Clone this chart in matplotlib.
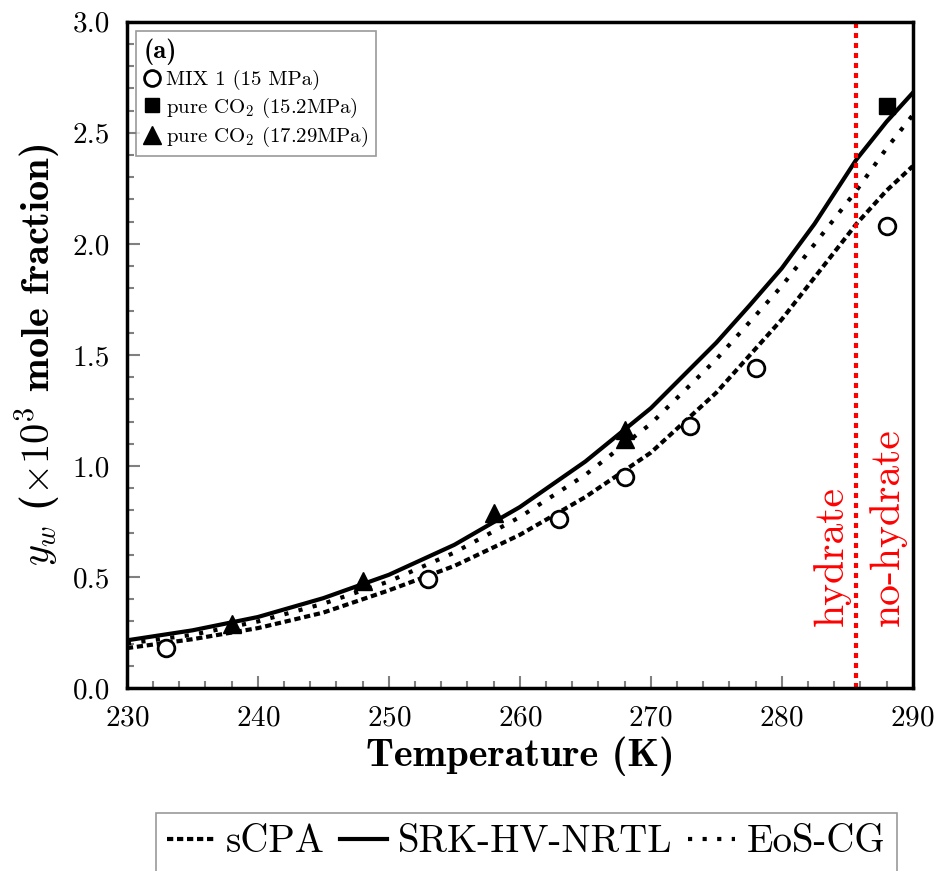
import numpy as np
import matplotlib.pyplot as plt
from matplotlib.ticker import MultipleLocator

plt.rcParams['font.family'] = 'cmr10'
plt.rcParams['mathtext.fontset'] = 'cm'
plt.rcParams['axes.unicode_minus'] = False
plt.rcParams['axes.formatter.use_mathtext'] = True

# experimental data
mix1_T = [233, 253, 263, 268, 273, 278, 288]
mix1_y = [0.18, 0.49, 0.76, 0.95, 1.18, 1.44, 2.08]
co2a_T = [288]
co2a_y = [2.62]
co2b_T = [238, 248, 258, 268, 268]
co2b_y = [0.29, 0.48, 0.79, 1.16, 1.12]

# model curves
srk_T = [230, 235, 240, 245, 250, 255, 260, 265, 270, 275, 277.5, 280, 282.5, 285.7, 288, 290]
srk_y = [0.215, 0.26, 0.32, 0.405, 0.51, 0.645, 0.815, 1.02, 1.26, 1.555, 1.72, 1.89, 2.09, 2.38, 2.55, 2.68]
cg_T = [230, 235, 240, 245, 250, 255, 260, 265, 270, 275, 280, 285.7, 288, 290]
cg_y = [0.20, 0.24, 0.30, 0.38, 0.48, 0.61, 0.77, 0.96, 1.19, 1.48, 1.81, 2.24, 2.43, 2.58]
scpa_T = [230, 235, 240, 245, 250, 255, 260, 265, 270, 275, 280, 285.7, 288, 290]
scpa_y = [0.18, 0.22, 0.27, 0.34, 0.44, 0.55, 0.69, 0.86, 1.06, 1.33, 1.66, 2.09, 2.24, 2.35]

T_hyd = 285.7

fig = plt.figure(figsize=(9.4, 8.71), dpi=100)
ax = fig.add_axes([0.135, 0.21, 0.836, 0.765])

l1, = ax.plot(scpa_T, scpa_y, color='k', lw=3, dashes=(1.5, 0.9), label='sCPA')
l2, = ax.plot(srk_T, srk_y, color='k', lw=3, label='SRK-HV-NRTL')
l3, = ax.plot(cg_T, cg_y, color='k', lw=3, dashes=(1, 2.5), label='EoS-CG')

m1, = ax.plot(mix1_T, mix1_y, 'o', mfc='white', mec='k', mew=2, ms=12, ls='none',
              label='MIX 1 (15 MPa)')
m2, = ax.plot(co2a_T, co2a_y, 's', color='k', ms=11, ls='none',
              label='pure CO$_2$ (15.2MPa)')
m3, = ax.plot(co2b_T, co2b_y, '^', color='k', ms=13, ls='none',
              label='pure CO$_2$ (17.29MPa)')

ax.axvline(T_hyd, color='red', lw=3, dashes=(1.2, 1.2))
ax.text(T_hyd - 1.9, 0.28, 'hydrate', color='red', rotation=90, fontsize=30,
        ha='center', va='bottom')
ax.text(T_hyd + 2.4, 0.28, 'no-hydrate', color='red', rotation=90, fontsize=30,
        ha='center', va='bottom')

ax.set_xlim(230, 290)
ax.set_ylim(0, 3.0)
ax.xaxis.set_major_locator(MultipleLocator(10))
ax.xaxis.set_minor_locator(MultipleLocator(2))
ax.yaxis.set_major_locator(MultipleLocator(0.5))
ax.yaxis.set_minor_locator(MultipleLocator(0.1))
ax.yaxis.set_major_formatter(plt.FuncFormatter(lambda v, p: '%.1f' % v))
ax.tick_params(which='both', direction='in', color='gray', labelsize=21, width=1.5)
ax.tick_params(which='major', length=9, pad=12)
ax.tick_params(which='minor', length=5)
for s in ax.spines.values():
    s.set_linewidth(2.5)

ax.set_xlabel('Temperature (K)', fontfamily='cmb10', fontsize=29, labelpad=4)
ax.set_ylabel(r'$y_w$ ($\times10^3$ mole fraction)', fontfamily='cmb10', fontsize=29,
              labelpad=8)

leg = ax.legend(handles=[m1, m2, m3], loc='upper left', title='(a)', fontsize=15,
                title_fontproperties={'family': 'cmb10', 'size': 19},
                alignment='left', handlelength=0.8, handletextpad=0.3,
                borderaxespad=0.45, fancybox=False, edgecolor='gray',
                labelspacing=0.25, borderpad=0.35, markerscale=0.95)
leg.get_frame().set_linewidth(1.2)

fleg = fig.legend(handles=[l1, l2, l3], loc='upper center', bbox_to_anchor=(0.56, 0.067),
                  ncol=3, fontsize=28, handlelength=1.2, handletextpad=0.3,
                  columnspacing=0.4, fancybox=False, edgecolor='gray', borderpad=0.3,
                  borderaxespad=0)
fleg.get_frame().set_linewidth(1.2)

fig.savefig('out.png', dpi=100)
